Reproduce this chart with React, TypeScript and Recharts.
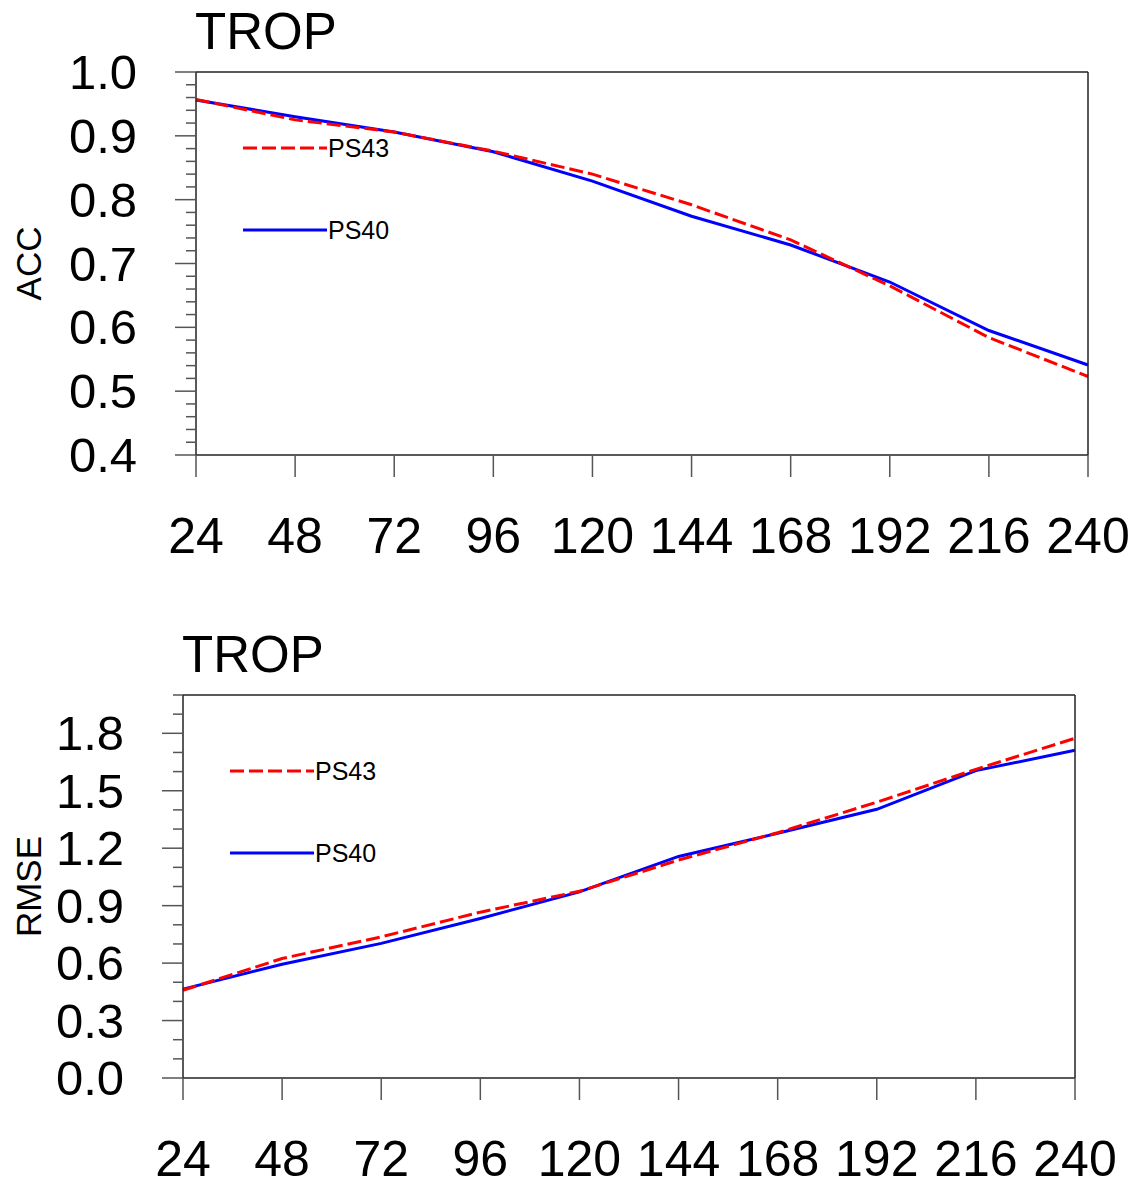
import React from "react";
import { LineChart, Line, XAxis, YAxis } from "recharts";

const LEADS = [24, 48, 72, 96, 120, 144, 168, 192, 216, 240];

const ACC_PS43 = [0.957, 0.925, 0.906, 0.876, 0.84, 0.792, 0.737, 0.665, 0.584, 0.523];
const ACC_PS40 = [0.956, 0.93, 0.906, 0.875, 0.829, 0.774, 0.729, 0.671, 0.595, 0.541];

const RMSE_PS43 = [0.458, 0.624, 0.737, 0.866, 0.975, 1.138, 1.281, 1.44, 1.612, 1.774];
const RMSE_PS40 = [0.464, 0.594, 0.703, 0.833, 0.972, 1.157, 1.278, 1.403, 1.605, 1.711];

const ACC_MAJOR = [0.4, 0.5, 0.6, 0.7, 0.8, 0.9, 1.0];
const RMSE_MAJOR = [0.0, 0.3, 0.6, 0.9, 1.2, 1.5, 1.8];

const FONT = "'Liberation Sans', Arial, Helvetica, sans-serif";
const TICK_COLOR = "#555";
const AXIS_COLOR = "#222";

// minor ticks are just subdivisions of the axis range
function withMinor(lo: number, hi: number, step: number) {
  const n = Math.round((hi - lo) / step);
  return Array.from({ length: n + 1 }, (_, i) => Math.round((lo + i * step) * 1000) / 1000);
}

const isMajor = (majors: number[], v: number) => majors.some((m) => Math.abs(m - v) < 1e-6);

const LeftTick = ({ x, y, payload, majors }: any) => {
  const major = isMajor(majors, payload.value);
  return (
    <g>
      <line x1={x} x2={x - (major ? 21 : 10)} y1={y} y2={y} stroke={TICK_COLOR} strokeWidth={1.5} />
      {major && (
        <text x={x - 59} y={y} textAnchor="end" dominantBaseline="central" fontSize={49} fontFamily={FONT} fill="#000">
          {payload.value.toFixed(1)}
        </text>
      )}
    </g>
  );
};

const RightTick = ({ x, y, payload, majors }: any) => {
  const major = isMajor(majors, payload.value);
  return <line x1={x} x2={x + (major ? 22 : 11)} y1={y} y2={y} stroke={TICK_COLOR} strokeWidth={1.5} />;
};

const BottomTick = ({ x, y, payload }: any) => (
  <g>
    <line x1={x} x2={x} y1={y} y2={y + 22} stroke={TICK_COLOR} strokeWidth={1.5} />
    <text x={x} y={y + 98} textAnchor="middle" fontSize={50} fontFamily={FONT} fill="#000">
      {payload.value}
    </text>
  </g>
);

const TopTick = ({ x, y }: any) => (
  <line x1={x} x2={x} y1={y} y2={y - 20} stroke={TICK_COLOR} strokeWidth={1.5} />
);

interface PanelProps {
  top: number;
  height: number;
  margin: { top: number; right: number; bottom: number; left: number };
  ps43: number[];
  ps40: number[];
  domain: [number, number];
  ticks: number[];
  majors: number[];
  yLabel: string;
  plotLeft: number;
  plotTop: number;
  plotBottom: number;
}

function Panel({ top, height, margin, ps43, ps40, domain, ticks, majors, yLabel, plotLeft, plotTop, plotBottom }: PanelProps) {
  const data = LEADS.map((lead, i) => ({ lead, ps43: ps43[i], ps40: ps40[i] }));
  const axisLine = { stroke: AXIS_COLOR, strokeWidth: 1.5 };
  const legendX = plotLeft + 47;
  return (
    <div style={{ position: "absolute", left: 0, top, width: 1141, height }}>
      <LineChart width={1141} height={height} data={data} margin={margin}>
        <XAxis
          xAxisId="b"
          dataKey="lead"
          type="number"
          domain={[24, 240]}
          ticks={LEADS}
          interval={0}
          height={60}
          tickSize={0}
          tickMargin={0}
          tickLine={false}
          axisLine={axisLine}
          tick={<BottomTick />}
        />
        <XAxis
          xAxisId="t"
          orientation="top"
          type="number"
          domain={[24, 240]}
          ticks={LEADS}
          interval={0}
          height={40}
          tickSize={0}
          tickMargin={0}
          tickLine={false}
          axisLine={axisLine}
          tick={<TopTick />}
        />
        <YAxis
          yAxisId="l"
          type="number"
          domain={domain}
          ticks={ticks}
          interval={0}
          width={100}
          tickSize={0}
          tickMargin={0}
          tickLine={false}
          axisLine={axisLine}
          tick={<LeftTick majors={majors} />}
        />
        <YAxis
          yAxisId="r"
          orientation="right"
          type="number"
          domain={domain}
          ticks={ticks}
          interval={0}
          width={50}
          tickSize={0}
          tickMargin={0}
          tickLine={false}
          axisLine={axisLine}
          tick={<RightTick majors={majors} />}
        />
        <Line
          xAxisId="b"
          yAxisId="l"
          type="linear"
          dataKey="ps40"
          stroke="#0000ff"
          strokeWidth={3}
          dot={false}
          isAnimationActive={false}
        />
        <Line
          xAxisId="b"
          yAxisId="l"
          type="linear"
          dataKey="ps43"
          stroke="#ff0000"
          strokeWidth={3}
          strokeDasharray="14 5"
          dot={false}
          isAnimationActive={false}
        />
      </LineChart>
      <svg width={1141} height={height} style={{ position: "absolute", left: 0, top: 0, pointerEvents: "none" }}>
        <text x={plotLeft - 1} y={plotTop - 23} fontSize={51} fontFamily={FONT} fill="#000">
          TROP
        </text>
        <text
          transform={`translate(28, ${(plotTop + plotBottom) / 2}) rotate(-90)`}
          textAnchor="middle"
          dominantBaseline="central"
          fontSize={35}
          fontFamily={FONT}
          fill="#000"
        >
          {yLabel}
        </text>
        <line x1={legendX} x2={legendX + 84} y1={plotTop + 76} y2={plotTop + 76} stroke="#ff0000" strokeWidth={3} strokeDasharray="14 5" />
        <text x={legendX + 85} y={plotTop + 76} dominantBaseline="central" fontSize={25} fontFamily={FONT} fill="#000">
          PS43
        </text>
        <line x1={legendX} x2={legendX + 84} y1={plotTop + 158} y2={plotTop + 158} stroke="#0000ff" strokeWidth={3} />
        <text x={legendX + 85} y={plotTop + 158} dominantBaseline="central" fontSize={25} fontFamily={FONT} fill="#000">
          PS40
        </text>
      </svg>
    </div>
  );
}

export default function App() {
  return (
    <div style={{ position: "absolute", left: 0, top: 0, width: 1141, height: 1183, background: "#fff" }}>
      <Panel
        top={0}
        height={590}
        margin={{ top: 32, right: 3, bottom: 75, left: 96 }}
        ps43={ACC_PS43}
        ps40={ACC_PS40}
        domain={[0.4, 1.0]}
        ticks={withMinor(0.4, 1.0, 0.02)}
        majors={ACC_MAJOR}
        yLabel="ACC"
        plotLeft={196}
        plotTop={72}
        plotBottom={455}
      />
      <Panel
        top={600}
        height={583}
        margin={{ top: 55, right: 16, bottom: 45, left: 83 }}
        ps43={RMSE_PS43}
        ps40={RMSE_PS40}
        domain={[0, 2.0]}
        ticks={withMinor(0, 2.0, 0.1)}
        majors={RMSE_MAJOR}
        yLabel="RMSE"
        plotLeft={183}
        plotTop={95}
        plotBottom={478}
      />
    </div>
  );
}
